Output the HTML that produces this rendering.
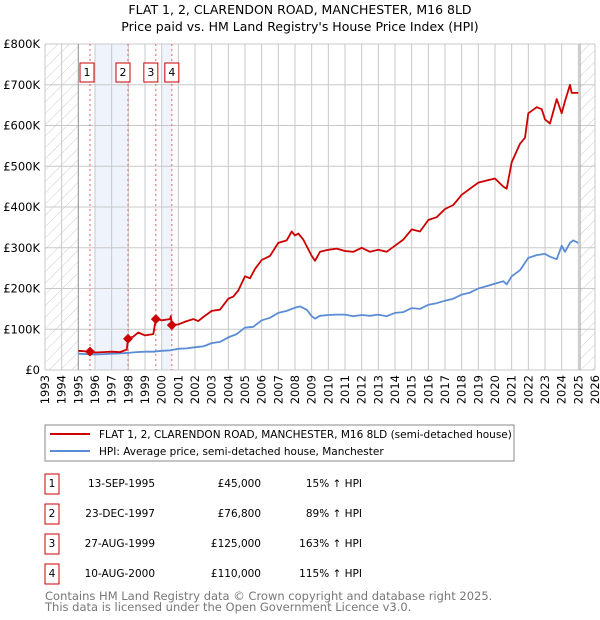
<!DOCTYPE html>
<html><head><meta charset="utf-8"><style>
body{margin:0;background:#fff;width:600px;height:620px;overflow:hidden;font-family:"DejaVu Sans","Liberation Sans",sans-serif;}
svg{display:block}
</style></head><body>
<svg id="chart" width="600" height="620" xmlns="http://www.w3.org/2000/svg" font-family="DejaVu Sans, Liberation Sans, sans-serif">
<defs>
<pattern id="hatch" patternUnits="userSpaceOnUse" width="8" height="8" patternTransform="rotate(45)"><line x1="0" y1="0" x2="0" y2="8" stroke="#ccc" stroke-width="1"/></pattern>
</defs>
<text x="300" y="14" text-anchor="middle" font-size="12.5">FLAT 1, 2, CLARENDON ROAD, MANCHESTER, M16 8LD</text>
<text x="300" y="31" text-anchor="middle" font-size="12.5">Price paid vs. HM Land Registry's House Price Index (HPI)</text>
<g id="plot"></g>
<g>
<rect x="45" y="425" width="469" height="36" fill="#fff" stroke="#888"/>
<line x1="50" y1="434" x2="90" y2="434" stroke="#cc0000" stroke-width="2"/>
<text x="99" y="438" font-size="10.5">FLAT 1, 2, CLARENDON ROAD, MANCHESTER, M16 8LD (semi-detached house)</text>
<line x1="50" y1="451" x2="90" y2="451" stroke="#5b8dd6" stroke-width="2"/>
<text x="99" y="455" font-size="10.5">HPI: Average price, semi-detached house, Manchester</text>
</g>
<g id="table" font-size="10.5"></g>
<text x="45" y="600" font-size="11.5" fill="#777">Contains HM Land Registry data © Crown copyright and database right 2025.</text>
<text x="45" y="611" font-size="11.5" fill="#777">This data is licensed under the Open Government Licence v3.0.</text>
</svg>
<script>
const yearTicks=[1993,1994,1995,1996,1997,1998,1999,2000,2001,2002,2003,2004,2005,2006,2007,2008,2009,2010,2011,2012,2013,2014,2015,2016,2017,2018,2019,2020,2021,2022,2023,2024,2025,2026];
const valueTicks=[0,100,200,300,400,500,600,700,800];
const valueLabels=["£0","£100K","£200K","£300K","£400K","£500K","£600K","£700K","£800K"];
const saleLabels=["1","2","3","4"];
const saleDates=[1995.7,1997.98,1999.65,2000.61];
const saleValues=[45,76.8,125,110];
const saleDateText=["13-SEP-1995","23-DEC-1997","27-AUG-1999","10-AUG-2000"];
const salePriceText=["£45,000","£76,800","£125,000","£110,000"];
const saleHpiText=["15% ↑ HPI","89% ↑ HPI","163% ↑ HPI","115% ↑ HPI"];
const hpiDates=[1995,1995.5,1996,1996.5,1997,1997.5,1998,1998.5,1999,1999.5,2000,2000.5,2001,2001.5,2002,2002.5,2003,2003.5,2004,2004.5,2005,2005.5,2006,2006.5,2007,2007.5,2008,2008.3,2008.7,2009,2009.2,2009.5,2010,2010.5,2011,2011.5,2012,2012.5,2013,2013.5,2014,2014.5,2015,2015.5,2016,2016.5,2017,2017.5,2018,2018.5,2019,2019.5,2020,2020.5,2020.7,2021,2021.5,2022,2022.5,2023,2023.3,2023.7,2024,2024.2,2024.5,2024.7,2025];
const hpiValues=[40,39,38,39,40,41,42,44,45,45,47,48,52,53,56,58,66,69,80,88,104,106,122,128,140,145,153,156,148,132,126,133,135,136,136,132,135,133,136,132,140,142,152,150,160,164,170,175,185,190,200,206,212,218,210,230,245,275,282,285,278,272,305,290,312,318,312];
const redDates=[1995,1995.7,1996,1996.5,1997,1997.5,1997.9,1997.98,1998.3,1998.6,1999,1999.5,1999.65,2000,2000.5,2000.55,2000.61,2001,2001.5,2001.9,2002.2,2002.5,2003,2003.5,2004,2004.3,2004.6,2005,2005.3,2005.6,2006,2006.5,2007,2007.5,2007.8,2008,2008.2,2008.5,2009,2009.2,2009.5,2010,2010.5,2011,2011.5,2012,2012.5,2013,2013.5,2014,2014.5,2015,2015.5,2016,2016.5,2017,2017.5,2018,2018.5,2019,2019.5,2020,2020.5,2020.7,2021,2021.5,2021.8,2022,2022.5,2022.8,2023,2023.3,2023.7,2024,2024.2,2024.5,2024.6,2025];
const redValues=[47,45,43,44,45,44,50,76.8,82,92,85,88,125,122,125,132,110,112,120,125,120,130,145,148,175,180,195,230,225,248,270,280,312,318,340,330,335,320,280,268,290,295,298,292,290,300,290,295,290,305,320,345,340,368,375,395,405,430,445,460,465,470,450,445,510,555,570,630,645,640,615,605,665,630,660,700,680,680];
const NS="http://www.w3.org/2000/svg";
const X0=45,X1=595,Y0=370,Y1=44;
function xs(y){return X0+(y-1993)/(2026-1993)*(X1-X0);}
function ys(v){return Y0-v/800*(Y0-Y1);}
function mk(tag,attrs,parent){const e=document.createElementNS(NS,tag);for(const k in attrs)e.setAttribute(k,attrs[k]);parent.appendChild(e);return e;}
const plot=document.getElementById('plot');
let b=mk('rect',{x:xs(1996),y:Y1,width:xs(saleDates[1])-xs(1996),height:Y0-Y1,fill:'#eef3fc'},plot);


b=mk('rect',{x:xs(2000),y:Y1,width:xs(saleDates[3])-xs(2000),height:Y0-Y1,fill:'#eef3fc'},plot);


let h=mk('rect',{x:X0,y:Y1,width:xs(1995)-X0,height:Y0-Y1,fill:'url(#hatch)'},plot);


h=mk('rect',{x:xs(2025.1),y:Y1,width:X1-xs(2025.1),height:Y0-Y1,fill:'url(#hatch)'},plot);


yearTicks.forEach((yr,i)=>{
 const l=mk('line',{x1:xs(yr),x2:xs(yr),y1:Y1,y2:Y0,stroke:'#c8c8c8','stroke-width':1},plot);
 
 
 const t=mk('text',{x:0,y:0,'font-size':11.5,'text-anchor':'end',transform:`translate(${xs(yr)+4},375) rotate(-90)`},plot);
 t.textContent=yr;
 
 
});
valueTicks.forEach((v,i)=>{
 const l=mk('line',{x1:X0,x2:X1,y1:ys(v),y2:ys(v),stroke:'#c8c8c8','stroke-width':1},plot);
 
 
 const t=mk('text',{x:40,y:ys(v)+4,'font-size':11.5,'text-anchor':'end'},plot);
 t.textContent=valueLabels[i];
 
 
});
let ax=mk('line',{x1:xs(1995),x2:xs(1995),y1:Y1,y2:Y0,stroke:'#999'},plot);


ax=mk('line',{x1:xs(2025.1),x2:xs(2025.1),y1:Y1,y2:Y0,stroke:'#999'},plot);


saleDates.forEach((d,i)=>{
 const l=mk('line',{x1:xs(d),x2:xs(d),y1:Y1,y2:Y0,stroke:'#e06060','stroke-dasharray':'2,3'},plot);
 
 
 const g=mk('g',{},plot);
 
 
 const cx=[xs(d)-3,xs(d)-5,xs(d)-5,xs(d)+0][i];
 mk('rect',{x:cx-7,y:63,width:14,height:19,fill:'#fff',stroke:'#cc0000'},g);
 const t=mk('text',{x:cx,y:76,'font-size':11,'text-anchor':'middle'},g);
 t.textContent=saleLabels[i];
});
function path(dates,vals,color,name){
 let d='';dates.forEach((x,i)=>{d+=(i?'L':'M')+xs(x).toFixed(1)+','+ys(vals[i]).toFixed(1);});
 const p=mk('path',{d:d,fill:'none',stroke:color,'stroke-width':1.8,'stroke-linejoin':'round'},plot);
 
 
}
path(hpiDates,hpiValues,'#5b8dd6','hpi-line');
path(redDates,redValues,'#cc0000','price-paid-line');
saleDates.forEach((d,i)=>{
 const c=mk('path',{d:`M${xs(d)},${ys(saleValues[i])-5}l5,5l-5,5l-5,-5z`,fill:'#cc0000'},plot);
 
 
});
const tb=document.getElementById('table');
saleLabels.forEach((s,i)=>{
 const y=487+i*30;
 const g=mk('g',{},tb);
 
 
 mk('rect',{x:45,y:y-13,width:14,height:20,fill:'#fff',stroke:'#cc0000'},g);
 let t=mk('text',{x:52,y:y,'text-anchor':'middle'},g);t.textContent=s;
 t=mk('text',{x:155,y:y,'text-anchor':'end'},g);t.textContent=saleDateText[i];
 t=mk('text',{x:261,y:y,'text-anchor':'end'},g);t.textContent=salePriceText[i];
 t=mk('text',{x:362,y:y,'text-anchor':'end'},g);t.textContent=saleHpiText[i];
});
</script>
</body></html>
